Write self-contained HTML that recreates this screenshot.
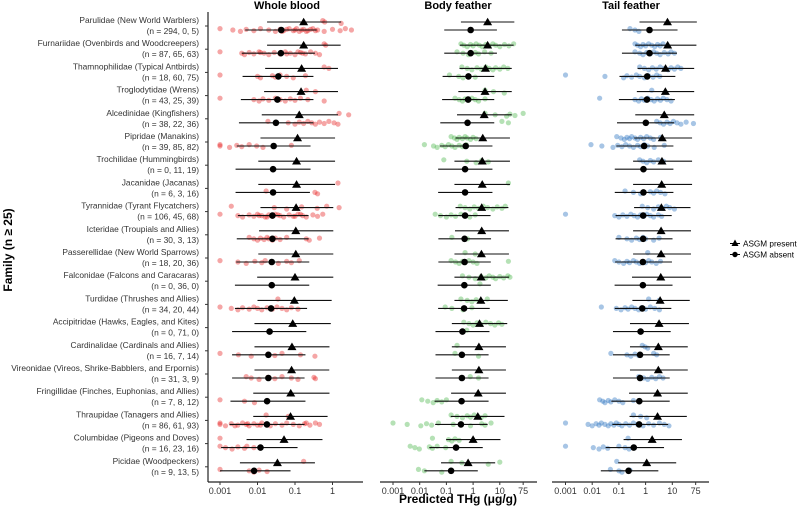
<!DOCTYPE html>
<html><head><meta charset="utf-8">
<style>
html,body{margin:0;padding:0;background:#fff;}
svg{display:block;font-family:"Liberation Sans",Arial,sans-serif;}
</style></head>
<body>
<svg id="chart" width="800" height="508" viewBox="0 0 800 508" xmlns="http://www.w3.org/2000/svg">
<g id="labels"></g>
<g id="axes"></g>
<g id="dots"></g>
<g id="marks"></g>
<text x="12" y="250" transform="rotate(-90 12 250)" text-anchor="middle" font-size="12" font-weight="bold" fill="#000">Family (n ≥ 25)</text>
<text x="458" y="503" text-anchor="middle" font-size="12" font-weight="bold" fill="#000">Predicted THg (μg/g)</text>
<text x="287" y="9" text-anchor="middle" font-size="11" font-weight="bold">Whole blood</text>
<text x="458" y="9" text-anchor="middle" font-size="11" font-weight="bold">Body feather</text>
<text x="631" y="9" text-anchor="middle" font-size="11" font-weight="bold">Tail feather</text>
<g>
<line x1="730" y1="243.5" x2="740" y2="243.5" stroke="#000" stroke-width="1"/>
<polygon points="735,239.5 738.5,246 731.5,246" fill="#000"/>
<text x="743" y="246.5" font-size="8.2">ASGM present</text>
<line x1="730" y1="254.5" x2="740" y2="254.5" stroke="#000" stroke-width="1"/>
<circle cx="735" cy="254.5" r="2.7" fill="#000"/>
<text x="743" y="257.5" font-size="8.2">ASGM absent</text>
</g>
</svg>
<script>
const families = ["Parulidae (New World Warblers)","Furnariidae (Ovenbirds and Woodcreepers)","Thamnophilidae (Typical Antbirds)","Troglodytidae (Wrens)","Alcedinidae (Kingfishers)","Pipridae (Manakins)","Trochilidae (Hummingbirds)","Jacanidae (Jacanas)","Tyrannidae (Tyrant Flycatchers)","Icteridae (Troupials and Allies)","Passerellidae (New World Sparrows)","Falconidae (Falcons and Caracaras)","Turdidae (Thrushes and Allies)","Accipitridae (Hawks, Eagles, and Kites)","Cardinalidae (Cardinals and Allies)","Vireonidae (Vireos, Shrike-Babblers, and Erpornis)","Fringillidae (Finches, Euphonias, and Allies)","Thraupidae (Tanagers and Allies)","Columbidae (Pigeons and Doves)","Picidae (Woodpeckers)"];
const sampleSizes = ["294, 0, 5","87, 65, 63","18, 60, 75","43, 25, 39","38, 22, 36","39, 85, 82","0, 11, 19","6, 3, 16","106, 45, 68","30, 3, 13","18, 20, 36","0, 36, 0","34, 20, 44","0, 71, 0","16, 7, 14","31, 3, 9","7, 8, 12","86, 61, 93","16, 23, 16","9, 13, 5"];
const panels = ["blood","feather","tail"];
const tickBlood = ["0.001","0.01","0.1","1"];
const tickFeather = ["0.001","0.01","0.1","1","10","75"];

// Whole blood estimates
const bloodPresent = [0.17,0.17,0.15,0.145,0.13,0.117,0.11,0.11,0.107,0.105,0.105,0.1,0.096,0.087,0.083,0.081,0.077,0.076,0.051,0.034];
const bloodPresentLo = [0.018,0.018,0.016,0.015,0.013,0.012,0.0105,0.0105,0.012,0.011,0.0105,0.0098,0.01,0.0083,0.0083,0.0083,0.0077,0.0077,0.0051,0.0034];
const bloodPresentHi = [1.7,1.65,1.4,1.4,1.4,1.17,1.17,1.17,1.05,1.05,1.05,1.05,0.95,0.9,0.83,0.82,0.83,0.74,0.54,0.34];
const bloodAbsent = [0.043,0.042,0.036,0.034,0.031,0.027,0.026,0.026,0.025,0.025,0.024,0.024,0.023,0.021,0.0195,0.0195,0.018,0.0178,0.012,0.0081];
const bloodAbsentLo = [0.0047,0.0038,0.004,0.0036,0.0032,0.0028,0.0026,0.0026,0.003,0.0028,0.0027,0.0025,0.0025,0.0021,0.0021,0.0021,0.0019,0.0018,0.00107,0.001];
const bloodAbsentHi = [0.38,0.34,0.31,0.31,0.31,0.26,0.26,0.25,0.23,0.23,0.24,0.24,0.21,0.2,0.19,0.18,0.19,0.18,0.117,0.076];
// Body feather estimates
const featherPresent = [3.5,3.5,2.9,2.8,2.6,2.3,2.2,2.2,2.1,2.1,2.05,2.0,1.95,1.74,1.65,1.65,1.55,1.5,1.0,0.65];
const featherPresentLo = [0.35,0.32,0.31,0.28,0.25,0.22,0.2,0.2,0.22,0.21,0.2,0.2,0.2,0.16,0.16,0.16,0.15,0.145,0.098,0.063];
const featherPresentHi = [35,33,28,28,28,24,24,24,21,22,22,22,20,19,17,17,17,15,10.6,6.7];
const featherAbsent = [0.81,0.81,0.67,0.65,0.62,0.53,0.5,0.5,0.5,0.48,0.48,0.47,0.46,0.4,0.38,0.38,0.37,0.35,0.23,0.15];
const featherAbsentLo = [0.083,0.083,0.072,0.069,0.059,0.057,0.049,0.049,0.05,0.05,0.05,0.047,0.049,0.039,0.039,0.039,0.036,0.038,0.023,0.015];
const featherAbsentHi = [7.8,7.8,6.2,6.2,6.2,5.3,5.3,5.3,4.5,4.7,4.6,4.6,4.2,4.1,3.8,3.8,3.8,3.5,2.3,1.5];
// Tail feather estimates
const tailPresent = [6.6,6.7,5.6,5.5,5.0,4.2,4.1,4.0,3.9,3.8,3.8,3.7,3.5,3.2,3.0,3.0,2.8,2.8,1.76,1.1];
const tailPresentLo = [0.59,0.41,0.5,0.47,0.41,0.37,0.34,0.34,0.37,0.34,0.34,0.31,0.32,0.26,0.26,0.26,0.24,0.25,0.15,0.094];
const tailPresentHi = [83,80,66,66,66,55,55,55,48,50,50,50,45,42,38,38,38,35,23,14];
const tailAbsent = [1.4,1.4,1.15,1.12,1.02,0.88,0.83,0.83,0.81,0.81,0.79,0.79,0.75,0.65,0.62,0.62,0.58,0.57,0.36,0.23];
const tailAbsentLo = [0.13,0.13,0.105,0.1,0.085,0.08,0.07,0.07,0.075,0.075,0.072,0.069,0.07,0.06,0.06,0.06,0.052,0.057,0.032,0.021];
const tailAbsentHi = [15.7,15,13,12.5,11.7,11,11,11,9.5,10.2,9.7,10.2,9.2,8.7,8.0,8.0,8.0,7.0,4.9,3.0];

// Observed points
const bloodPresentPts = [[0.55,0.62,1.7],[0.6,0.66],[0.6,0.8],[0.2,0.35],[1.5,2.7],[],[],[1.4],[0.002,0.028,0.06,0.15,0.39,0.7,1.5],[],[],[],[0.035],[],[],[],[],[0.017,0.066],[0.001],[0.17]];
const bloodAbsentPts = [[0.001,0.0022,0.0035,0.005,0.008,0.012,0.02,0.03,0.04,0.05,0.07,0.1,0.13,0.17,0.22,0.3,0.4,0.6,1.0,1.6,2.2,3.2,0.045,0.06,0.09,0.11,0.15,0.2,0.26,0.35],[0.001,0.0038,0.0045,0.006,0.008,0.011,0.015,0.02,0.028,0.04,0.055,0.075,0.1,0.14,0.19,0.26,0.35,0.45,0.012,0.06,0.12,0.16],[0.001,0.01,0.012,0.025,0.03,0.04,0.06,0.09,0.19],[0.001,0.008,0.011,0.014,0.02,0.03,0.04,0.055,0.075,0.1,0.14,0.22,0.6],[0.019,0.066,0.1,0.13,0.17,0.22,0.28,0.35,0.45,0.6,0.8,1.1,1.4],[0.001,0.001,0.0018,0.0028,0.0038,0.006,0.0095,0.014,0.08],[],[0.017,0.34,0.4],[0.001,0.003,0.004,0.006,0.008,0.01,0.013,0.016,0.02,0.025,0.03,0.04,0.05,0.07,0.09,0.12,0.16,0.2,0.3,0.4,0.55,0.011,0.018,0.035,0.1,0.14],[0.006,0.008,0.01,0.012,0.015,0.018,0.02,0.025,0.03,0.04,0.06,0.2,0.24,0.45],[0.001,0.003,0.005,0.0085,0.013,0.016,0.024,0.036,0.06,0.08,0.13],[],[0.001,0.002,0.003,0.004,0.006,0.008,0.01,0.013,0.018,0.025,0.033,0.045,0.06,0.08,0.12],[],[0.001,0.0031,0.0068,0.019,0.029,0.045,0.14,0.34],[0.005,0.0068,0.011,0.019,0.029,0.045,0.08,0.12,0.32,0.35],[0.001,0.0045,0.0083],[0.001,0.001,0.0014,0.002,0.003,0.004,0.005,0.006,0.008,0.01,0.013,0.017,0.022,0.03,0.045,0.06,0.09,0.13,0.18,0.25,0.35,0.45,0.0025,0.0055,0.012,0.2],[0.001,0.0014,0.0021,0.003,0.0045,0.0052,0.008],[0.001,0.006,0.008,0.011,0.018]];
const featherPresentPts = [[],[0.35,0.45,0.6,0.8,1.0,1.3,1.7,2.2,3,4,5.5,7,10,15,22,33],[0.38,0.6,0.9,1.4,2,3,4,5.5,7,10,14,20],[2.8,5.8,14.7],[2.8,6.7,18,24,37,75],[0.15,0.2,0.25,0.3,0.4,0.5,0.6,0.8,1.0,1.3],[0.08,0.58,1.3,2.1,3.7],[21],[0.33,0.5,0.75,1.1,1.6,2.4,3.5,5.5,8,12,16],[],[0.5,1.2],[0.4,0.7,1.2,2,3,4,5.5,7,10,14,20,24],[0.35,0.6,0.9,1.3,2,3.4],[0.45,0.7,1,1.4,2,3,4.5,6.5,9,12],[0.25],[],[],[0.15,0.25,0.4,0.6,0.8,1.1,1.5,2,2.8],[0.03,0.12,0.16,0.21,0.3],[0.15,0.38,3.7,10]];
const featherAbsentPts = [[],[0.25,0.42,0.67,1.2,1.6,2.7,4.7],[0.13,0.29,0.42,0.67,1.2],[0.21,0.3,0.4,0.5,0.67,0.9,1.2,1.6,2.8],[12,21],[0.015,0.033,0.045,0.067,0.09,0.12,0.16,0.21,0.3,0.4,0.55],[],[],[0.038,0.06,0.1,0.15,0.22,0.35,0.5,0.75,1.2],[0.16,0.62],[0.15,0.22,0.3,0.4,0.5,0.7,1.0,1.4,21],[1.8],[0.09,0.16,0.42,0.9],[0.58],[0.21,0.4,1.6],[0.78,1.6],[0.012,0.02,0.032,0.045,0.067,0.1],[0.001,0.0034,0.011,0.018,0.028,0.05,0.18,0.8,2.1,2.8,4.7],[0.0044,0.0066,0.0097,0.023,0.03,0.045,0.094],[0.009,0.015,0.067]];
const tailPresentPts = [[],[0.4,0.5,0.65,0.8,1,1.3,1.7,2.2,2.8,3.5,4.5],[0.6,0.9,1.3,1.8,2.5,3.5,5,7,9,12,16,21],[1.7],[],[0.083,0.12,0.16,0.2,0.25,0.3,0.4,0.5,0.65,0.85,1.1,1.5,2,3.6],[0.6,0.8,1.1,1.5,2,3,4.7],[],[0.75,1.2,2,3,4.5,6,8,12],[],[1.2],[],[1.3,3.2],[],[0.75,0.95,1.2],[],[],[0.35,0.65,1.1],[0.22],[0.083]];
const tailAbsentPts = [[0.26,0.4,0.56],[0.4,0.6,0.8,1.1,1.5,2,2.6,3.5,5,7,9,12],[0.001,0.03,0.15,0.2,0.3,0.45,0.6,0.9,1.3,1.9,2.6,3.4],[0.019,0.4,0.55,0.7,0.9,1.2,1.6,2.1,2.8,3.6,4.6,6.3,9],[2.6,3.5,4.7,6.3,8.3,11,15,21,33,62],[0.009,0.023,0.06,0.09,0.13,0.18,0.25,0.35,0.5,0.65,0.9,1.2,2.1,5],[],[0.17,0.35,0.65,1.5,2,2.6,3.6,5.3],[0.001,0.07,0.1,0.14,0.2,0.28,0.37,0.5,0.65,0.85,1.1,1.5,2,3,4],[0.1,0.2,0.3,0.45,0.6,0.8,1,2,3.2],[0.07,0.1,0.15,0.2,0.25,0.35,0.45,0.6,0.8,1,1.3,1.7,2.5,3.6],[],[0.022,0.08,0.12,0.17,0.22,0.3,0.4,0.55,0.7,1,1.5,2.2,3.3],[],[0.05,0.2,0.28,0.4,0.55,2,2.6],[0.55,0.85,1.2,1.7,2.4,3.3,4.5],[0.019,0.025,0.03,0.04,0.05,0.07,0.1,0.14,0.35],[0.001,0.007,0.01,0.014,0.018,0.022,0.03,0.04,0.05,0.065,0.08,0.1,0.13,0.18,0.25,0.35,0.5,0.8,1.3,2,3.3,5,7.5],[0.001,0.011,0.018,0.026,0.038,0.1,0.17,0.24],[0.048,0.1,0.13,0.26]];

const NS = "http://www.w3.org/2000/svg";
function mk(tag, attrs, parent){const e=document.createElementNS(NS,tag);for(const k in attrs)e.setAttribute(k,attrs[k]);parent.appendChild(e);return e;}
function xBlood(v){return 220 + 37.5*(Math.log10(v)+3);}
function xFeather(v){return 393 + 26.7*(Math.log10(v)+3);}
function xTail(v){return 565.5 + 26.7*(Math.log10(v)+3);}
function yTri(i){return 22 + i*23.2;}
function yCirc(i){return yTri(i) + 8;}

const axes=document.getElementById('axes'), labels=document.getElementById('labels'), dots=document.getElementById('dots'), marks=document.getElementById('marks');

const axY = mk('line',{x1:208,y1:12,x2:208,y2:482,stroke:'#222','stroke-width':1.2},axes);


const panelSpec=[{x1:208,x2:363,sx:xBlood,ticks:tickBlood,name:'blood'},{x1:380,x2:537,sx:xFeather,ticks:tickFeather,name:'feather'},{x1:552,x2:709,sx:xTail,ticks:tickFeather,name:'tail'}];
panelSpec.forEach(p=>{
  const l=mk('line',{x1:p.x1,y1:482,x2:p.x2,y2:482,stroke:'#222','stroke-width':1.2},axes);
  
  
  p.ticks.forEach(t=>{
    const x=p.sx(parseFloat(t));
    const tk=mk('line',{x1:x,y1:482,x2:x,y2:485,stroke:'#333','stroke-width':1},axes);
    
    
    const tx=mk('text',{x:x,y:494,'text-anchor':'middle','font-size':9,fill:'#333'},axes);
    tx.textContent=t;
    
    
  });
});
families.forEach((f,i)=>{
  const t1=mk('text',{x:199,y:yTri(i)+1,'text-anchor':'end','font-size':8.4,fill:'#333'},labels);
  t1.textContent=f;
  
  
  const t2=mk('text',{x:199,y:yTri(i)+12,'text-anchor':'end','font-size':8.4,fill:'#333'},labels);
  t2.textContent='(n = '+sampleSizes[i]+')';
  
  
  const tk=mk('line',{x1:205,y1:yTri(i)+4,x2:208,y2:yTri(i)+4,stroke:'#333','stroke-width':1},axes);
  
  
});
const dotSets=[
  {sx:xBlood,pres:bloodPresentPts,abs:bloodAbsentPts,col:'rgba(228,20,20,0.38)',name:'blood'},
  {sx:xFeather,pres:featherPresentPts,abs:featherAbsentPts,col:'rgba(60,175,60,0.38)',name:'feather'},
  {sx:xTail,pres:tailPresentPts,abs:tailAbsentPts,col:'rgba(35,110,190,0.4)',name:'tail'}];
dotSets.forEach(s=>{
  [['pres',yTri],['abs',yCirc]].forEach(([k,yf])=>{
    s[k].forEach((arr,i)=>{
      arr.forEach((v,j)=>{
        const jy=((j*7)%5-2)*0.7;
        const c=mk('circle',{cx:s.sx(v),cy:yf(i)+jy,r:2.6,fill:s.col},dots);
        
        
      });
    });
  });
});
const est=[
  {sx:xBlood,p:bloodPresent,pl:bloodPresentLo,ph:bloodPresentHi,a:bloodAbsent,al:bloodAbsentLo,ah:bloodAbsentHi,name:'blood'},
  {sx:xFeather,p:featherPresent,pl:featherPresentLo,ph:featherPresentHi,a:featherAbsent,al:featherAbsentLo,ah:featherAbsentHi,name:'feather'},
  {sx:xTail,p:tailPresent,pl:tailPresentLo,ph:tailPresentHi,a:tailAbsent,al:tailAbsentLo,ah:tailAbsentHi,name:'tail'}];
est.forEach(s=>{
  families.forEach((f,i)=>{
    const yt=yTri(i), yc=yCirc(i);
    const l1=mk('line',{x1:s.sx(s.pl[i]),x2:s.sx(s.ph[i]),y1:yt,y2:yt,stroke:'#111','stroke-width':1.1},marks);
    
    
    const x=s.sx(s.p[i]);
    const tri=mk('polygon',{points:(x)+','+(yt-4.3)+' '+(x+4.5)+','+(yt+3.3)+' '+(x-4.5)+','+(yt+3.3),fill:'#000'},marks);
    
    
    const l2=mk('line',{x1:s.sx(s.al[i]),x2:s.sx(s.ah[i]),y1:yc,y2:yc,stroke:'#111','stroke-width':1.1},marks);
    
    
    const c=mk('circle',{cx:s.sx(s.a[i]),cy:yc,r:3.3,fill:'#000'},marks);
    
    
  });
});
</script>
</body></html>
